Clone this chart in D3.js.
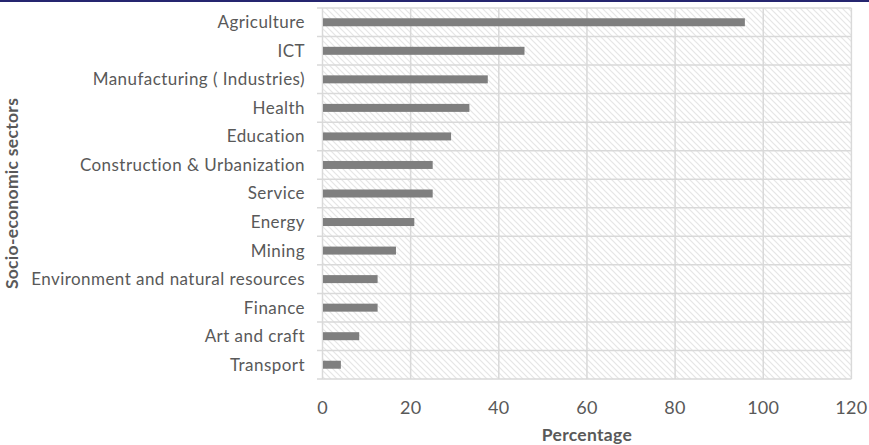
<!DOCTYPE html>
<html>
<head>
<meta charset="utf-8">
<script src="https://cdn.jsdelivr.net/npm/d3@7"></script>
<style>
  html, body { margin: 0; padding: 0; background: #fff; }
  svg { display: block; }
  text { font-family: Lato, "Open Sans", sans-serif; }
</style>
</head>
<body>
<svg id="chart" width="869" height="445"></svg>
<script>
// Share of respondents citing each socio-economic sector (%)
const sectors = [
  "Agriculture", "ICT", "Manufacturing ( Industries)", "Health", "Education",
  "Construction & Urbanization", "Service", "Energy", "Mining",
  "Environment and natural resources", "Finance", "Art and craft", "Transport"
];
const percentages = [95.83, 45.83, 37.5, 33.33, 29.17, 25, 25, 20.83, 16.67, 12.5, 12.5, 8.33, 4.17];
const xTicks = [0, 20, 40, 60, 80, 100, 120];

const W = 869, H = 445;
const m = { top: 8, right: 18, bottom: 66, left: 322.5 };
const svg = d3.select("#chart");

// top rule
svg.append("rect").attr("x", 0).attr("y", 0).attr("width", W).attr("height", 2).attr("fill", "#25256f");

// diagonal hatch for the plot area
const defs = svg.append("defs");
const pat = defs.append("pattern")
  .attr("id", "hatch").attr("patternUnits", "userSpaceOnUse")
  .attr("width", 6).attr("height", 6);
pat.append("rect").attr("width", 6).attr("height", 6).attr("fill", "#ffffff");
pat.append("path").attr("d", "M-1,-1 L7,7 M-1,5 L1,7 M5,-1 L7,1")
  .attr("stroke", "#e6e6e6").attr("stroke-width", 1.2);

const x = d3.scaleLinear().domain([0, 120]).range([m.left, 851.4]);
const y = d3.scaleBand().domain(sectors).range([m.top, 379]).paddingInner(0).paddingOuter(0);

svg.append("rect")
  .attr("x", x(0)).attr("y", y.range()[0])
  .attr("width", x(120) - x(0)).attr("height", y.range()[1] - y.range()[0])
  .attr("fill", "url(#hatch)");

const grid = svg.append("g").attr("stroke", "#d9d9d9").attr("stroke-width", 1.5);
// horizontal separators between categories (with short ticks to the left)
const bounds = sectors.map(s => y(s)).concat([y.range()[1]]);
grid.selectAll("line.h").data(bounds).join("line")
  .attr("x1", x(0) - 5.5).attr("x2", x(120))
  .attr("y1", d => d).attr("y2", d => d);
// vertical value gridlines
grid.selectAll("line.v").data(xTicks).join("line")
  .attr("x1", d => x(d)).attr("x2", d => x(d))
  .attr("y1", y.range()[0]).attr("y2", y.range()[1]);

// bars
const barH = 8;
svg.append("g").selectAll("rect").data(sectors).join("rect")
  .attr("x", x(0) + 0.5)
  .attr("y", d => y(d) + (y.bandwidth() - barH) / 2)
  .attr("width", (d, i) => x(percentages[i]) - x(0) - 0.5)
  .attr("height", barH)
  .attr("fill", "#7f7f7f");

// category labels
svg.append("g").selectAll("text").data(sectors).join("text")
  .attr("x", 305)
  .attr("y", d => y(d) + y.bandwidth() / 2)
  .attr("dy", "0.35em")
  .attr("text-anchor", "end")
  .attr("font-size", 17)
  .attr("letter-spacing", 0.45)
  .attr("fill", "#595959")
  .text(d => d);

// value axis labels
svg.append("g").selectAll("text").data(xTicks).join("text")
  .attr("x", d => x(d))
  .attr("y", 414)
  .attr("text-anchor", "middle")
  .attr("font-size", 18)
  .attr("letter-spacing", 0.3)
  .attr("fill", "#595959")
  .text(d => d);

// axis titles
svg.append("text")
  .attr("x", (x(0) + x(120)) / 2).attr("y", 441)
  .attr("text-anchor", "middle")
  .attr("font-size", 17.5).attr("letter-spacing", 0.3)
  .attr("font-weight", "bold").attr("fill", "#595959")
  .text("Percentage");

svg.append("text")
  .attr("transform", `translate(18,${(y.range()[0] + y.range()[1]) / 2}) rotate(-90)`)
  .attr("text-anchor", "middle")
  .attr("font-size", 17.5).attr("letter-spacing", 0.3)
  .attr("font-weight", "bold").attr("fill", "#595959")
  .text("Socio-economic sectors");
</script>
</body>
</html>
